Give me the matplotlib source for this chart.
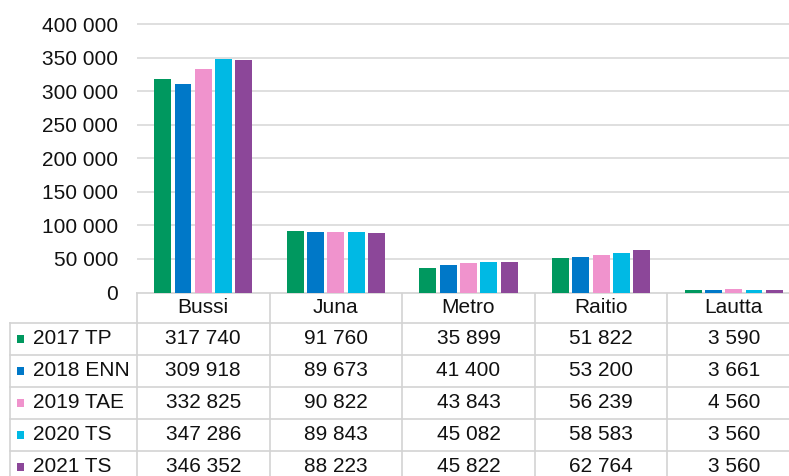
import matplotlib
matplotlib.use("Agg")
import matplotlib.pyplot as plt
from matplotlib.patches import Rectangle

plt.rcParams['font.family'] = ['Liberation Sans', 'DejaVu Sans']

categories = ["Bussi", "Juna", "Metro", "Raitio", "Lautta"]
series_labels = ["2017 TP", "2018 ENN", "2019 TAE", "2020 TS", "2021 TS"]
v2017_tp = [317740, 91760, 35899, 51822, 3590]
v2018_enn = [309918, 89673, 41400, 53200, 3661]
v2019_tae = [332825, 90822, 43843, 56239, 4560]
v2020_ts = [347286, 89843, 45082, 58583, 3560]
v2021_ts = [346352, 88223, 45822, 62764, 3560]
series_values = [v2017_tp, v2018_enn, v2019_tae, v2020_ts, v2021_ts]
colors = ["#00985F", "#0078C8", "#F093CD", "#00B9E4", "#8C4799"]
yticks = [0, 50000, 100000, 150000, 200000, 250000, 300000, 350000, 400000]


def fmt(v):
    return f"{v:,}".replace(",", " ")


W, H = 789, 476
fig = plt.figure(figsize=(W / 100, H / 100), dpi=100)

# layout (pixels)
ax_left, ax_right = 137, 800
y0_px, y400_px = 292.5, 24
ax_top = 12
ymax = 400000 * (y0_px - ax_top) / (y0_px - y400_px)
ax = fig.add_axes([ax_left / W, 1 - y0_px / H, (ax_right - ax_left) / W, (y0_px - ax_top) / H])
ax.set_xlim(-0.5, len(categories) - 0.5)
ax.set_ylim(0, ymax)

n = len(series_values)
slot = 0.153
bw = 0.128
for i, vals in enumerate(series_values):
    offs = (i - (n - 1) / 2) * slot
    ax.bar([c + offs for c in range(len(categories))], vals, width=bw,
           color=colors[i], edgecolor='none', zorder=3)

fs = 15
ax.set_yticks(yticks)
ax.set_yticklabels([fmt(t) for t in yticks], fontsize=fs, color='#111111')
ax.tick_params(axis='y', length=0, pad=13.5)
ax.set_xticks([])
ax.grid(axis='y', color='#D9D9D9', lw=1.2, zorder=0)
for s in ax.spines.values():
    s.set_visible(False)
ax.patch.set_alpha(0)

# data table (pixel-coordinate overlay)
tab = fig.add_axes([0, 0, 1, 1], zorder=-1)
tab.set_xlim(0, W)
tab.set_ylim(H, 0)
tab.axis('off')

lc = '#D3D3D3'
lw = 1.2
label_left = 10
head_top, head_bot = y0_px, 322.5
row_h = 32
colw = (ax_right - ax_left) / len(categories)
nrows = len(series_labels)

# horizontal lines
tab.plot([ax_left, ax_right], [head_top, head_top], color=lc, lw=lw)
for r in range(nrows + 1):
    y = head_bot + r * row_h
    tab.plot([label_left, ax_right], [y, y], color=lc, lw=lw)
# vertical lines
for k in range(len(categories) + 1):
    x = ax_left + k * colw
    tab.plot([x, x], [head_top, H + 20], color=lc, lw=lw)
tab.plot([label_left, label_left], [head_bot, H + 20], color=lc, lw=lw)

for c, cat in enumerate(categories):
    tab.text(ax_left + (c + 0.5) * colw, (head_top + head_bot) / 2, cat,
             ha='center', va='center', fontsize=fs, color='#111111')

for r, (lab, vals) in enumerate(zip(series_labels, series_values)):
    yc = head_bot + (r + 0.5) * row_h
    tab.add_patch(Rectangle((17, yc - 3.5), 7, 7.5, color=colors[r], lw=0))
    tab.text(33, yc, lab, ha='left', va='center', fontsize=fs, color='#111111')
    for c, v in enumerate(vals):
        tab.text(ax_left + (c + 0.5) * colw, yc, fmt(v), ha='center', va='center',
                 fontsize=fs, color='#111111')

fig.savefig("out.png", dpi=100)
